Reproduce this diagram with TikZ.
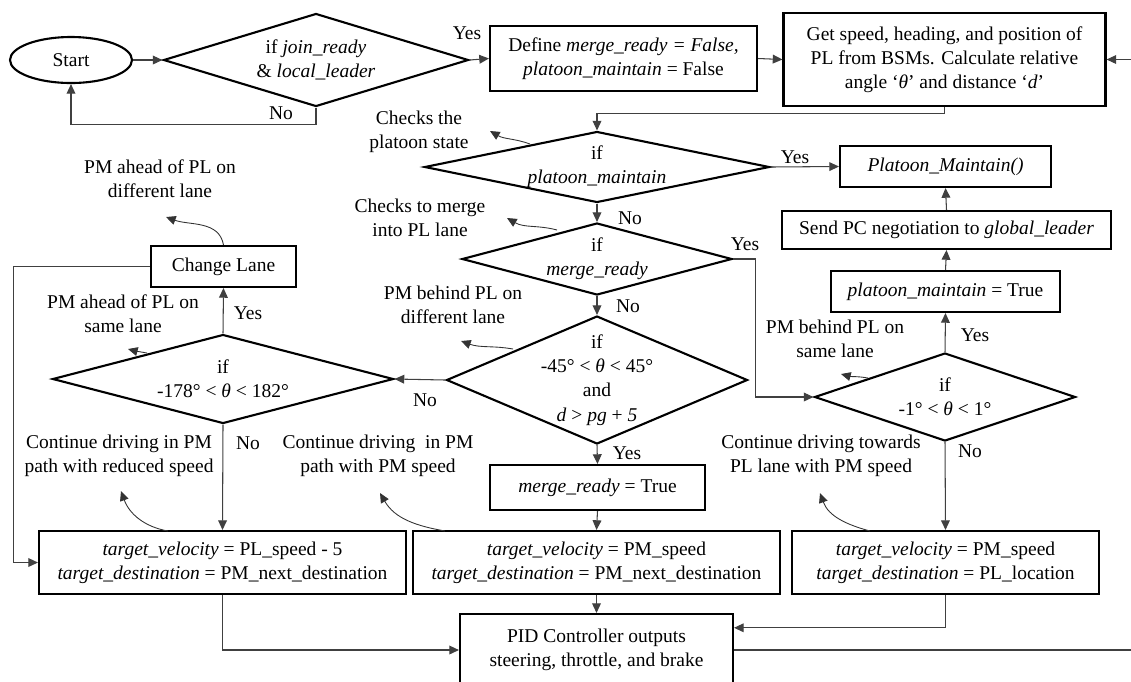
\documentclass[tikz,border=0pt]{standalone}
\usepackage{fontspec}
\setmainfont{Liberation Serif}
\usetikzlibrary{arrows.meta,shapes.geometric,calc}
\begin{document}
\begin{tikzpicture}[x=0.02cm,y=-0.02cm,
  font=\fontsize{11.1}{13.8}\selectfont,
  box/.style 2 args={draw, line width=1.2pt, minimum width=#1*0.02cm, minimum height=#2*0.02cm, inner sep=0pt, align=center},
  dia/.style 2 args={draw, diamond, line width=1.2pt, minimum width=#1*0.02cm, minimum height=#2*0.02cm, inner sep=0pt},
  txt/.style={inner sep=0pt, align=center},
  conn/.style={draw=black!75, line width=0.6pt, -{Triangle[length=5.5pt,width=5pt]}},
  plain/.style={draw=black!75, line width=0.6pt},
  ann/.style={draw=black!80, line width=0.5pt, -{Triangle[length=5.5pt,width=5pt]}}
]
\useasboundingbox (0,0) rectangle (1131,681);
\clip (0,0) rectangle (1131,681);

% ---- shapes ----
\node[draw, ellipse, line width=1.2pt, minimum width=122*0.02cm, minimum height=46*0.02cm, inner sep=0pt] (start) at (71,60) {Start};
\node[dia={305}{93}] (d1) at (316,60) {};
\node[txt] (d1t) at (d1) {if \textit{join\_ready}\\\& \textit{local\_leader}};
\node[box={267}{65}] (def) at (623.5,58.5) {Define \textit{merge\_ready = False,}\\\textit{platoon\_maintain} = False};
\node[box={322}{93}] (get) at (944.5,59.5) {Get speed, heading, and position of\\PL from BSMs. Calculate relative\\angle ‘\textit{θ}’ and distance ‘\textit{d}’};

\node[dia={345}{71}] (dA) at (597,167) {};
\node[txt] (dAt) at (dA) {if\\\textit{platoon\_maintain}};
\node[box={211}{41}] (pm) at (945.5,166.5) {\textit{Platoon\_Maintain()}};
\node[box={329}{38}] (send) at (946.5,230) {Send PC negotiation to \textit{global\_leader}};
\node[box={229}{41}] (tr1) at (945.5,291.5) {\textit{platoon\_maintain} = True};

\node[dia={270}{72}] (dB) at (597,259) {};
\node[txt] (dBt) at (dB) {if\\\textit{merge\_ready}};

\node[dia={301}{128}] (dC) at (597,380) {};
\node[txt] (dCt) at (dC) {if\\-45° < \textit{θ} < 45°\\and\\\textit{d} > \textit{pg} + \textit{5}};

\node[dia={341}{89}] (dD) at (223,379) {};
\node[txt] (dDt) at (dD) {if\\-178° < \textit{θ} < 182°};

\node[dia={261}{88}] (dE) at (945,397) {};
\node[txt] (dEt) at (dE) {if\\-1° < \textit{θ} < 1°};

\node[box={145}{41}] (cl) at (223.5,266.5) {Change Lane};
\node[box={215}{45}] (tr2) at (597.5,487.5) {\textit{merge\_ready} = True};

\node[box={367}{63}] (b1) at (222.5,562.5) {\textit{target\_velocity} = PL\_speed - 5\\\textit{target\_destination} = PM\_next\_destination};
\node[box={367}{63}] (b2) at (596.5,562.5) {\textit{target\_velocity} = PM\_speed\\\textit{target\_destination} = PM\_next\_destination};
\node[box={307}{63}] (b3) at (945.5,562.5) {\textit{target\_velocity} = PM\_speed\\\textit{target\_destination} = PL\_location};
\node[box={273}{72}] (pid) at (596.5,650) {PID Controller outputs\\steering, throttle, and brake};

% ---- labels ----
\node[txt] (y1) at (467,33) {Yes};
\node[txt] (n1) at (281,113) {No};
\node[txt] (L1) at (419,132) {Checks the\\platoon state};
\node[txt] (yA) at (795,157) {Yes};
\node[txt] (nA) at (630,218) {No};
\node[txt] (L2) at (420,217.5) {Checks to merge\\into PL lane};
\node[txt] (yB) at (745,244) {Yes};
\node[txt] (nB) at (628,306) {No};
\node[txt] (L3) at (453,305) {PM behind PL on\\different lane};
\node[txt] (L4) at (160,178.5) {PM ahead of PL on\\different lane};
\node[txt] (yD) at (248,313) {Yes};
\node[txt] (L5) at (123,313.5) {PM ahead of PL on\\same lane};
\node[txt] (nC) at (425,400) {No};
\node[txt] (nD) at (248,443) {No};
\node[txt] (L6) at (119,456) {Continue driving in PM\\path with reduced speed};
\node[txt] (L7) at (378,456) {Continue driving\ \ in PM\\path with PM speed};
\node[txt] (yC) at (627,453) {Yes};
\node[txt] (L8) at (835,339) {PM behind PL on\\same lane};
\node[txt] (yE) at (975,335) {Yes};
\node[txt] (nE) at (970,451) {No};
\node[txt] (L9) at (821,455.5) {Continue driving towards\\PL lane with PM speed};

% ---- connectors ----
\draw[conn] (start.east) -- (d1.west);
\draw[conn] (d1.south) -- ++(0,17) -| (start.south);
\draw[conn] (d1.east) -- (def.west);
\draw[conn] (def.east) -- (get.west);
\draw[conn] (get.south) -- ++(0,6) -| (dA.north);
\draw[conn] (dA.east) -- (pm.west);
\draw[conn] (dA.south) -- (dB.north);
\draw[conn] (dB.south) -- (dC.north);
\draw[conn] (dB.east) -- ++(22,0) |- (dE.west);
\draw[conn] (dE.north) -- (tr1.south);
\draw[conn] (tr1.north) -- (send.south);
\draw[conn] (send.north) -- (pm.south);
\draw[conn] (dE.south) -- (b3.north);
\draw[conn] (dC.west) -- (dD.east);
\draw[conn] (dC.south) -- (tr2.north);
\draw[conn] (tr2.south) -- (b2.north);
\draw[conn] (dD.north) -- (cl.south);
\draw[conn] (dD.south) -- (b1.north);
\draw[conn] (cl.west) -- ++(-136,0) |- (b1.west);
\draw[conn] (b1.south) |- (pid.west);
\draw[conn] (b2.south) -- (pid.north);
\draw[conn] (b3.south) |- ($(pid.north east)!0.2!(pid.south east)$);
\draw[conn] (pid.east) -- ++(430,0) |- (get.east);

% ---- annotation arrows ----
\coordinate (a1s) at (530,144); \coordinate (a1e) at (490,131);
\draw[ann] (a1s) to[out=160,in=-30] (a1e);
\coordinate (a2s) at (557,230); \coordinate (a2e) at (507,218);
\draw[ann] (a2s) to[out=165,in=-30] (a2e);
\coordinate (a3s) at (513,349); \coordinate (a3e) at (461,341);
\draw[ann] (a3s) to[out=170,in=-20] (a3e);
\coordinate (a4s) at (147,353); \coordinate (a4e) at (128,349);
\draw[ann] (a4s) to[out=170,in=-15] (a4e);
\coordinate (a5s) at (868,378); \coordinate (a5e) at (841,374);
\draw[ann] (a5s) to[out=170,in=-15] (a5e);
\coordinate (a6e) at (166,217);
\draw[ann] (cl.north) to[out=100,in=-20] (a6e);
\coordinate (a7s) at (168,531); \coordinate (a7e) at (121,491);
\draw[ann] (a7s) to[out=170,in=-70] (a7e);
\coordinate (a8s) at (445,531); \coordinate (a8e) at (380,493);
\draw[ann] (a8s) to[out=170,in=-60] (a8e);
\coordinate (a9s) at (870,531); \coordinate (a9e) at (820,493);
\draw[ann] (a9s) to[out=165,in=-70] (a9e);
\end{tikzpicture}
\end{document}
